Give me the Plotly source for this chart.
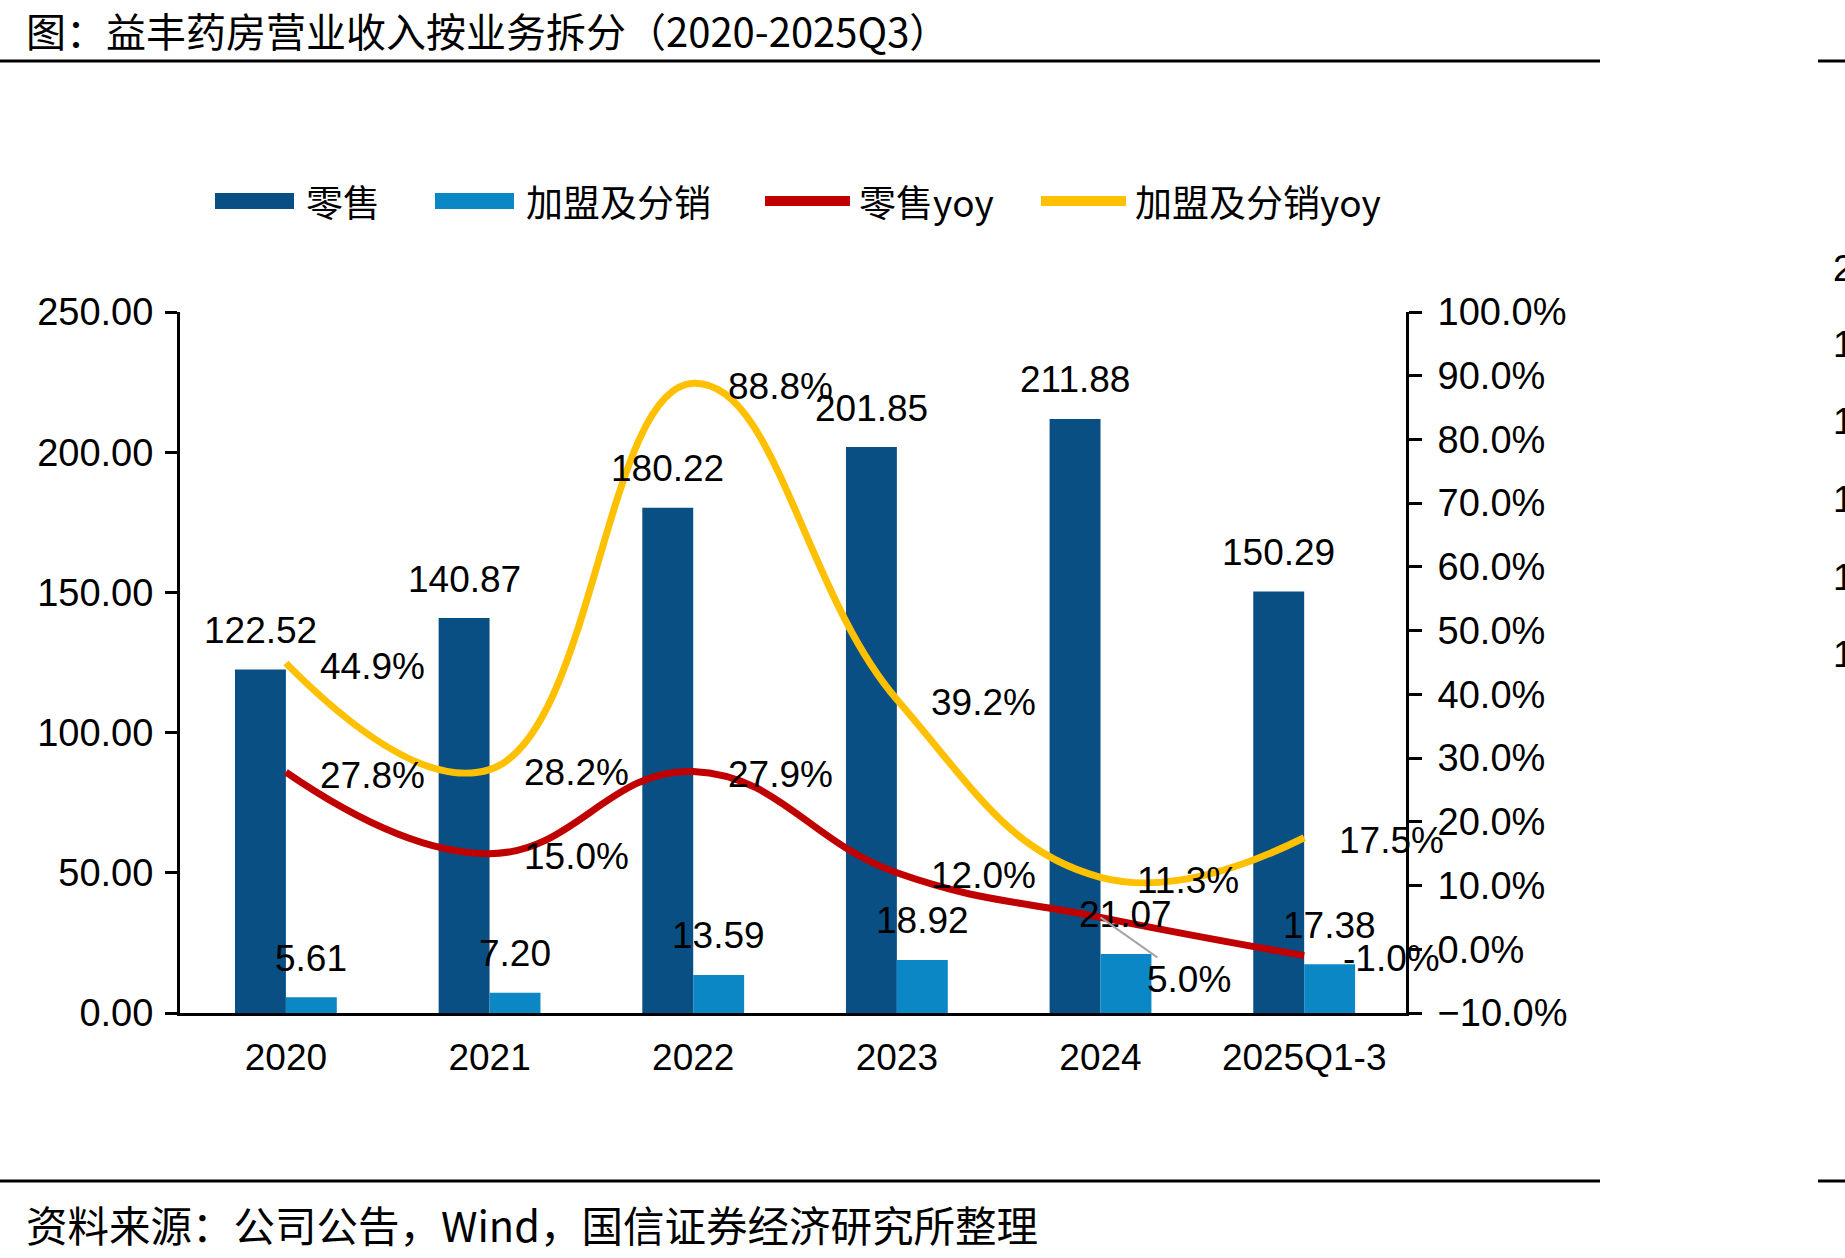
import plotly.graph_objects as go

# ---------------- data ----------------
categories = ["2020", "2021", "2022", "2023", "2024", "2025Q1-3"]
retail = [122.52, 140.87, 180.22, 201.85, 211.88, 150.29]
franchise = [5.61, 7.20, 13.59, 18.92, 21.07, 17.38]
retail_yoy = [0.278, 0.150, 0.279, 0.120, 0.050, -0.010]
franchise_yoy = [0.449, 0.282, 0.888, 0.392, 0.113, 0.175]
left_ticks = [0, 50, 100, 150, 200, 250]
right_ticks = [-0.1, 0.0, 0.1, 0.2, 0.3, 0.4, 0.5, 0.6, 0.7, 0.8, 0.9, 1.0]

title_text = "图：益丰药房营业收入按业务拆分（2020-2025Q3）"
source_text = "资料来源：公司公告，Wind，国信证券经济研究所整理"
legend_names = ["零售", "加盟及分销", "零售yoy", "加盟及分销yoy"]

# ---------------- styles ----------------
W, H = 1845, 1258
PL, PR, PT, PB = 180, 1406, 312, 1013
C_RETAIL = "#0A4F83"
C_FRAN = "#0B87C6"
C_RED = "#C00000"
C_YEL = "#FFC000"
NUM_FONT = "Liberation Sans, Arial, sans-serif"
CJK_FONT = "Noto Sans CJK SC, sans-serif"
FS = 37
BARGAP = 0.5
XRANGE = [-0.52, 5.5]


def px(xp):
    return (xp - PL) / (PR - PL)


def py(yp):
    return (PB - yp) / (PB - PT)


fig = go.Figure()
fig.add_trace(go.Bar(x=categories, y=retail, name=legend_names[0],
                     marker=dict(color=C_RETAIL, line=dict(width=0)), showlegend=False))
fig.add_trace(go.Bar(x=categories, y=franchise, name=legend_names[1],
                     marker=dict(color=C_FRAN, line=dict(width=0)), showlegend=False))
fig.add_trace(go.Scatter(x=categories, y=retail_yoy, name=legend_names[2], yaxis="y2",
                         mode="lines", line=dict(color=C_RED, width=7, shape="spline", smoothing=1.25),
                         showlegend=False))
fig.add_trace(go.Scatter(x=categories, y=franchise_yoy, name=legend_names[3], yaxis="y2",
                         mode="lines", line=dict(color=C_YEL, width=7, shape="spline", smoothing=1.25),
                         showlegend=False))

annotations = []
cat_w = (PR - PL) / (XRANGE[1] - XRANGE[0])
bar_half = cat_w * (1 - BARGAP) / 2 / 2  # half of one bar width
lab_font = dict(family=NUM_FONT, size=FS, color="black")
tick_font = dict(family=NUM_FONT, size=38, color="black")

for i, v in enumerate(retail):
    annotations.append(dict(x=i, y=v, xref="x", yref="y", text=f"{v:.2f}", showarrow=False,
                            xshift=-bar_half, yshift=39, font=lab_font))
for i, v in enumerate(franchise):
    annotations.append(dict(x=i, y=v, xref="x", yref="y", text=f"{v:.2f}", showarrow=False,
                            xshift=bar_half, yshift=39, font=lab_font))
for i, v in enumerate(retail_yoy):
    if i == 4:
        annotations.append(dict(x=i, y=v, xref="x", yref="y2", text=f"{v*100:.1f}%", showarrow=True,
                                arrowhead=0, arrowwidth=2, arrowcolor="#A6A6A6", ax=88, ay=62, standoff=0,
                                font=lab_font))
    else:
        annotations.append(dict(x=i, y=v, xref="x", yref="y2", text=f"{v*100:.1f}%", showarrow=False,
                                xshift=87, yshift=-3, font=lab_font))
for i, v in enumerate(franchise_yoy):
    annotations.append(dict(x=i, y=v, xref="x", yref="y2", text=f"{v*100:.1f}%", showarrow=False,
                            xshift=87, yshift=-3, font=lab_font))

# title & source
annotations.append(dict(x=px(24), y=py(30), xref="paper", yref="paper", text=title_text, showarrow=False,
                        xanchor="left", yanchor="middle", font=dict(family=CJK_FONT, size=40, color="black")))
annotations.append(dict(x=px(24), y=py(1224), xref="paper", yref="paper", text=source_text, showarrow=False,
                        xanchor="left", yanchor="middle", font=dict(family=CJK_FONT, size=41.5, color="black")))

# manual legend
shapes = []
leg_y = 201
leg_items = [
    ("rect", C_RETAIL, 215, 294, 304, legend_names[0]),
    ("rect", C_FRAN, 435, 514, 524, legend_names[1]),
    ("line", C_RED, 765, 850, 857, legend_names[2]),
    ("line", C_YEL, 1041, 1126, 1133, legend_names[3]),
]
for kind, col, x0, x1, tx, name in leg_items:
    if kind == "rect":
        shapes.append(dict(type="rect", xref="paper", yref="paper", x0=px(x0), x1=px(x1),
                           y0=py(leg_y + 8), y1=py(leg_y - 8), fillcolor=col, line=dict(width=0)))
    else:
        shapes.append(dict(type="line", xref="paper", yref="paper", x0=px(x0), x1=px(x1),
                           y0=py(leg_y), y1=py(leg_y), line=dict(color=col, width=10)))
    annotations.append(dict(x=px(tx), y=py(leg_y), xref="paper", yref="paper", text=name, showarrow=False,
                            xanchor="left", yanchor="middle", font=dict(family=CJK_FONT, size=FS, color="black")))

# horizontal rules
for yy in (61, 1181):
    shapes.append(dict(type="line", xref="paper", yref="paper", x0=px(0), x1=px(1600), y0=py(yy), y1=py(yy),
                       line=dict(color="black", width=3)))
    shapes.append(dict(type="line", xref="paper", yref="paper", x0=px(1818), x1=px(1845), y0=py(yy), y1=py(yy),
                       line=dict(color="black", width=3)))

# cut-off neighbouring chart fragments at right edge
frag_text = ["2", "1", "1", "1", "1", "1"]
frag_y = [268, 344, 421, 499, 577, 654]
for t, yy in zip(frag_text, frag_y):
    annotations.append(dict(x=px(1831), y=py(yy), xref="paper", yref="paper", text=t, showarrow=False,
                            xanchor="left", yanchor="middle", font=lab_font))

fig.update_layout(
    width=W, height=H,
    margin=dict(l=PL, r=W - PR, t=PT, b=H - PB, pad=0),
    paper_bgcolor="white", plot_bgcolor="white",
    barmode="group", bargap=BARGAP, bargroupgap=0,
    showlegend=False,
    xaxis=dict(type="category", range=XRANGE, autorange=False,
               showline=True, linecolor="black", linewidth=3, ticks="", showgrid=False,
               tickfont=lab_font, ticklabelstandoff=10),
    yaxis=dict(range=[0, 250], autorange=False, tickvals=left_ticks, tickformat=".2f", showline=True,
               linecolor="black", linewidth=3, ticks="outside", ticklen=12, tickwidth=3, tickcolor="black",
               showgrid=False, zeroline=False, tickfont=tick_font, ticklabelstandoff=4),
    yaxis2=dict(range=[-0.1, 1.0], autorange=False, tickvals=right_ticks, tickformat=".1%", overlaying="y",
                side="right", showline=True, linecolor="black", linewidth=3, ticks="outside", ticklen=13,
                tickwidth=3, tickcolor="black", showgrid=False, zeroline=False,
                tickfont=tick_font, ticklabelstandoff=8),
    annotations=annotations,
    shapes=shapes,
)

fig.write_html("out.html")
